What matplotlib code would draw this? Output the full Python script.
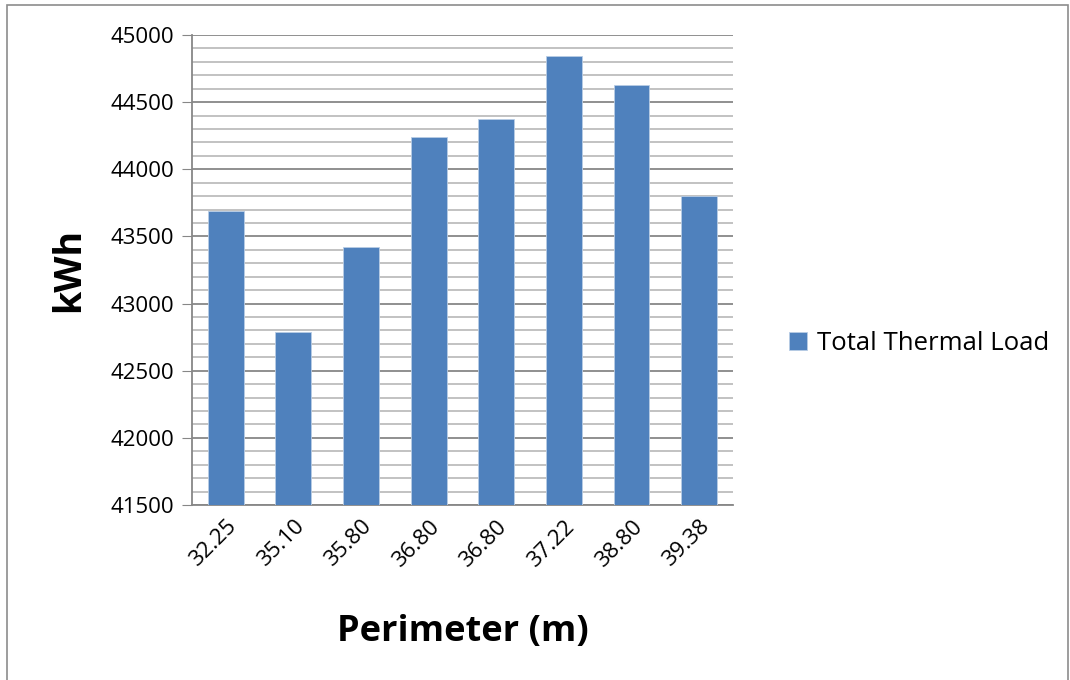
import matplotlib.pyplot as plt
from matplotlib.patches import Rectangle
from matplotlib.ticker import MultipleLocator

plt.rcParams['font.family'] = ['Open Sans', 'DejaVu Sans']

perimeter = ['32.25', '35.10', '35.80', '36.80', '36.80', '37.22', '38.80', '39.38']
thermal_load = [43687, 42791, 43421, 44240, 44377, 44841, 44628, 43801]

fig = plt.figure(figsize=(10.7, 6.8), dpi=100)
ax = fig.add_axes([0.1794, 0.2574, 0.5056, 0.6911])

# frame around the whole chart
fig.patches.append(Rectangle((0.0065, -0.01), 0.9915, 1.003, transform=fig.transFigure,
                             fill=False, edgecolor='#8c8c8c', linewidth=1.2))

x = range(len(perimeter))
ax.bar(x, thermal_load, width=0.53, color='#4F81BD', edgecolor='#b9cde5',
       linewidth=0.6, label='Total Thermal Load', zorder=3)

ax.set_ylim(41500, 45000)
ax.set_xlim(-0.5, len(perimeter) - 0.5)
ax.yaxis.set_major_locator(MultipleLocator(500))
ax.yaxis.set_minor_locator(MultipleLocator(100))
ax.grid(which='major', axis='y', color='#878787', linewidth=1.3, zorder=0)
ax.grid(which='minor', axis='y', color='#bdbdbd', linewidth=1.3, zorder=0)

ax.set_xticks(list(x))
ax.set_xticklabels(perimeter, rotation=45, ha='right', rotation_mode='anchor', fontsize=16)
ax.tick_params(axis='x', length=0, pad=8)
ax.tick_params(axis='y', which='major', length=7, color='#878787', labelsize=16, pad=6)
ax.tick_params(axis='y', which='minor', length=0)

for s in ['top', 'right']:
    ax.spines[s].set_visible(False)
for s in ['left', 'bottom']:
    ax.spines[s].set_color('#878787')
    ax.spines[s].set_linewidth(1.3)

ax.set_ylabel('kWh', fontsize=27, fontweight='bold', labelpad=16)
ax.set_xlabel('Perimeter (m)', fontsize=26, fontweight='bold', labelpad=31)

ax.legend(loc='center left', bbox_to_anchor=(1.06, 0.343), frameon=False,
          fontsize=18.5, handlelength=0.7, handleheight=0.7, handletextpad=0.4)

fig.savefig('out.png', dpi=100, facecolor='white')
